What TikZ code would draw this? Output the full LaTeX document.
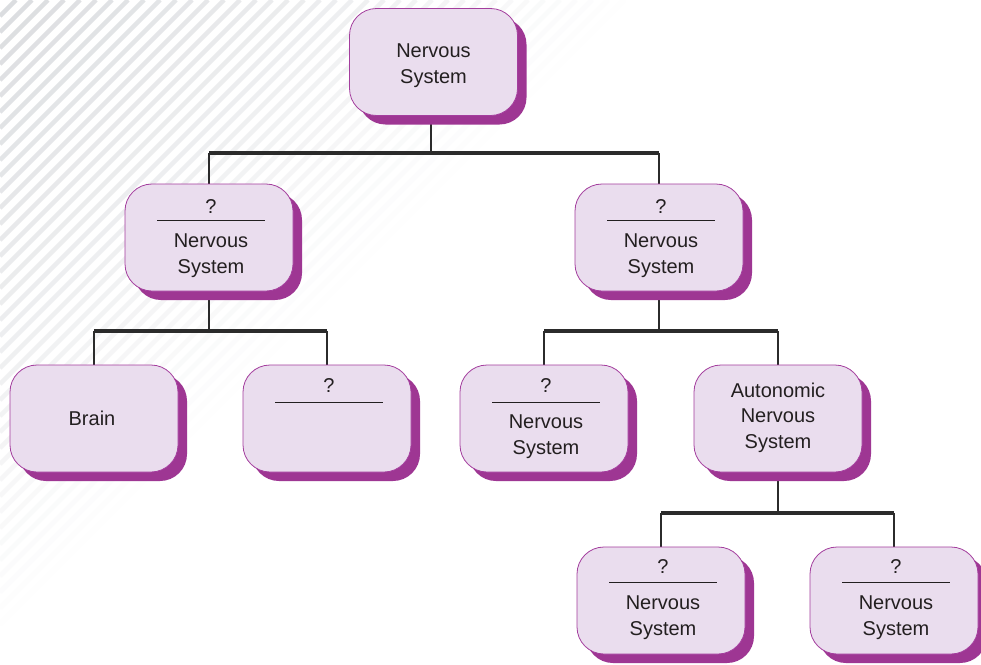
\documentclass[tikz,border=0pt]{standalone}
\usepackage{fontspec}
\setmainfont{Liberation Sans}
\usetikzlibrary{shadows,calc}
\definecolor{boxfill}{HTML}{EADDEE}
\definecolor{boxedge}{HTML}{A43E9E}
\definecolor{shadowc}{HTML}{9E3693}
\definecolor{linec}{HTML}{2B2B2B}
\definecolor{txt}{HTML}{231F20}
\definecolor{stripe}{HTML}{DADCDF}
\pgfdeclarelayer{bg}
\pgfsetlayers{bg,main}
\begin{document}
\begin{tikzpicture}[x=1pt,y=-1pt,
  box/.style={draw=boxedge, line width=0.8pt, fill=boxfill, rounded corners=27pt,
    minimum width=168pt, minimum height=107pt, inner sep=0pt,
    general shadow={shadow xshift=9pt, shadow yshift=-9pt, fill=shadowc, draw=none}},
  lbl/.style={font=\fontsize{20}{25.5}\selectfont, text=txt, align=center, inner sep=0pt},
  rulel/.style={draw=txt, line width=1.3pt},
  vline/.style={draw=linec, line width=1.5pt},
  hline/.style={draw=linec, line width=3.5pt},
]
\useasboundingbox (0,0) rectangle (981,664);
\begin{pgfonlayer}{bg}
\fill[white] (0,0) rectangle (981,664);
\foreach \k in {0,16,...,640} {
  \pgfmathsetmacro\op{100*(1-\k/640)}
  \draw[line width=4.5pt, color=stripe!\op!white] (\k,0) -- (0,\k);
}
\end{pgfonlayer}

% boxes
\node[box] (ns) at (433.5,62) {};
\node[box] (l2l) at (209,237.5) {};
\node[box] (l2r) at (659,237.5) {};
\node[box] (brain) at (94,418.5) {};
\node[box] (q3) at (327,418.5) {};
\node[box] (l3n) at (544,418.5) {};
\node[box] (ans) at (778,418.5) {};
\node[box] (l4l) at (661,600.5) {};
\node[box] (l4r) at (894,600.5) {};

% plain labels
\node[lbl] (ns-t) at ($(ns.center)+(0,3.5)$) {Nervous\\System};
\node[lbl] (brain-t) at ($(brain.center)+(-2,0)$) {Brain};
\node[lbl] (ans-t) at ($(ans.center)+(0,-1)$) {Autonomic\\Nervous\\System};

% labels in question boxes
\foreach \b/\qo/\ro in {l2l/23/37, l2r/23/37, q3/21/38, l3n/21/38, l4l/20/36, l4r/20/36} {
  \node[lbl] (\b-q) at ($(\b.north)+(2,\qo)$) {?};
  \draw[rulel] ($(\b.north)+(-52,\ro)$) -- ($(\b.north)+(56,\ro)$);
}
\node[lbl] (l2l-t) at ($(l2l.north)+(2,72)$) {Nervous\\System};
\node[lbl] (l2r-t) at ($(l2r.north)+(2,72)$) {Nervous\\System};
\node[lbl] (l3n-t) at ($(l3n.north)+(2,72)$) {Nervous\\System};
\node[lbl] (l4l-t) at ($(l4l.north)+(2,71)$) {Nervous\\System};
\node[lbl] (l4r-t) at ($(l4r.north)+(2,71)$) {Nervous\\System};

% connectors
\begin{pgfonlayer}{bg}
\coordinate (j1) at (431,153);
\draw[vline] ($(ns.south)+(-2.5,0)$) -- ($(ns.south |- j1)+(-2.5,0)$);
\draw[hline] (l2l.north |- j1) -- (l2r.north |- j1);
\draw[vline] (l2l.north |- j1) -- (l2l.north);
\draw[vline] (l2r.north |- j1) -- (l2r.north);

\coordinate (j2) at (212,331);
\draw[vline] (l2l.south) -- (l2l.south |- j2);
\draw[hline] (brain.north |- j2) -- (q3.north |- j2);
\draw[vline] (brain.north |- j2) -- (brain.north);
\draw[vline] (q3.north |- j2) -- (q3.north);

\coordinate (j3) at (663,331);
\draw[vline] (l2r.south) -- (l2r.south |- j3);
\draw[hline] (l3n.north |- j3) -- (ans.north |- j3);
\draw[vline] (l3n.north |- j3) -- (l3n.north);
\draw[vline] (ans.north |- j3) -- (ans.north);

\coordinate (j4) at (779,513);
\draw[vline] (ans.south) -- (ans.south |- j4);
\draw[hline] (l4l.north |- j4) -- (l4r.north |- j4);
\draw[vline] (l4l.north |- j4) -- (l4l.north);
\draw[vline] (l4r.north |- j4) -- (l4r.north);
\end{pgfonlayer}
\end{tikzpicture}
\end{document}
